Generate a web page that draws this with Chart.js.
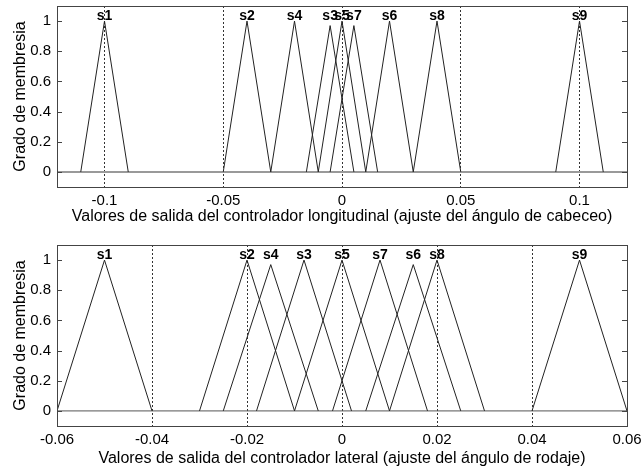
<!DOCTYPE html>
<html>
<head>
<meta charset="utf-8">
<script src="https://cdn.jsdelivr.net/npm/chart.js@4"></script>
<style>
  html, body { margin: 0; padding: 0; background: #fff; }
  #wrap { position: relative; width: 642px; height: 468px; }
  #topBox { position: absolute; left: 0; top: 0; width: 642px; height: 226px; }
  #botBox { position: absolute; left: 0; top: 226px; width: 642px; height: 242px; }
</style>
</head>
<body>
<div id="wrap">
  <div id="topBox"><canvas id="topChart" width="642" height="226"></canvas></div>
  <div id="botBox"><canvas id="botChart" width="642" height="242"></canvas></div>
</div>
<script>
// ===============================
// Data
// ===============================
// top: longitudinal controller output sets (triangles: left foot, peak, right foot)
const topNames  = ["s1", "s2", "s4", "s3", "s5", "s7", "s6", "s8", "s9"];
const topLeft   = [-0.11, -0.05, -0.03, -0.015, -0.01, -0.005, 0.01, 0.03, 0.09];
const topPeak   = [-0.1, -0.04, -0.02, -0.005, 0, 0.005, 0.02, 0.04, 0.1];
const topRight  = [-0.09, -0.03, -0.01, 0.005, 0.01, 0.015, 0.03, 0.05, 0.11];
const topHeight = [1, 1, 1, 0.97, 1, 0.97, 1, 1, 1];
const topXTicks = [-0.1, -0.05, 0, 0.05, 0.1];

// bottom: lateral controller output sets
const botNames  = ["s1", "s2", "s4", "s3", "s5", "s7", "s6", "s8", "s9"];
const botLeft   = [-0.06, -0.03, -0.025, -0.018, -0.01, -0.002, 0.005, 0.01, 0.04];
const botPeak   = [-0.05, -0.02, -0.015, -0.008, 0, 0.008, 0.015, 0.02, 0.05];
const botRight  = [-0.04, -0.01, -0.005, 0.002, 0.01, 0.018, 0.025, 0.03, 0.06];
const botHeight = [1, 1, 0.97, 1, 1, 1, 0.97, 1, 1];
const botXTicks = [-0.06, -0.04, -0.02, 0, 0.02, 0.04, 0.06];

const yTicks = [0, 0.2, 0.4, 0.6, 0.8, 1];
const labelY = 1.0;

const FONT = "'Liberation Sans', Arial, sans-serif";

// labels, box, zero line and inward ticks
const decoPlugin = {
  id: "deco",
  beforeDatasetsDraw(chart, args, opts) {
    const { ctx, chartArea: a, scales: { x, y } } = chart;
    const y0 = y.getPixelForValue(0);
    ctx.save();
    ctx.strokeStyle = opts.zeroColor;
    ctx.lineWidth = opts.zeroWidth;
    ctx.beginPath();
    ctx.moveTo(a.left, y0);
    ctx.lineTo(a.right, y0);
    ctx.stroke();
    ctx.restore();
  },
  afterDraw(chart, args, opts) {
    const { ctx, chartArea: a, scales: { x, y } } = chart;
    ctx.save();
    // box
    ctx.strokeStyle = "#444";
    ctx.lineWidth = 1;
    ctx.strokeRect(Math.round(a.left) + 0.5, Math.round(a.top) + 0.5,
      Math.round(a.right - a.left), Math.round(a.bottom - a.top));
    // inward y ticks on both sides
    ctx.beginPath();
    yTicks.forEach(v => {
      const py = Math.round(y.getPixelForValue(v)) + 0.5;
      ctx.moveTo(a.left, py); ctx.lineTo(a.left + 5, py);
      ctx.moveTo(a.right, py); ctx.lineTo(a.right - 5, py);
    });
    ctx.stroke();
    // set labels
    ctx.fillStyle = "#000";
    ctx.font = "bold 14px " + FONT;
    ctx.textAlign = "center";
    ctx.textBaseline = "alphabetic";
    opts.names.forEach((n, i) => {
      ctx.fillText(n, x.getPixelForValue(opts.peaks[i]), y.getPixelForValue(labelY) - 1);
    });
    ctx.restore();
  }
};

function makeChart(id, names, left, peak, right, height, xTicks, xMin, xMax, title, padTop, xAxisH, zeroColor, zeroWidth) {
  const datasets = names.map((n, i) => ({
    label: n,
    data: [
      { x: left[i], y: 0 },
      { x: peak[i], y: height[i] },
      { x: right[i], y: 0 }
    ],
    borderColor: "#222",
    borderWidth: 1,
    pointRadius: 0,
    tension: 0,
    fill: false
  }));

  return new Chart(document.getElementById(id), {
    type: "line",
    data: { datasets },
    plugins: [decoPlugin],
    options: {
      responsive: false,
      animation: false,
      events: [],
      layout: { padding: { top: padTop, right: 15, left: 0, bottom: 0 } },
      plugins: {
        legend: { display: false },
        tooltip: { enabled: false },
        deco: { names, peaks: peak, zeroColor, zeroWidth }
      },
      scales: {
        x: {
          type: "linear",
          min: xMin,
          max: xMax,
          afterBuildTicks: s => { s.ticks = xTicks.map(v => ({ value: v })); },
          afterFit: s => { s.height = xAxisH; s.paddingLeft = 0; s.paddingRight = 0; },
          grid: {
            color: c => (c.tick && (c.tick.value === xMin || c.tick.value === xMax)) ? "rgba(0,0,0,0)" : "#333",
            lineWidth: 1,
            drawTicks: false
          },
          border: { display: false, dash: [2, 2] },
          ticks: {
            color: "#000",
            padding: 5,
            maxRotation: 0,
            font: { family: FONT, size: 15 },
            callback: v => String(v)
          },
          title: {
            display: true,
            text: title,
            color: "#000",
            font: { family: FONT, size: 16 },
            padding: { top: 4, bottom: 0 }
          }
        },
        y: {
          min: -0.1,
          max: 1.1,
          afterBuildTicks: s => { s.ticks = yTicks.map(v => ({ value: v })); },
          afterFit: s => { s.width = 57; s.paddingTop = 0; s.paddingBottom = 0; },
          grid: { display: false, drawTicks: false },
          border: { display: false },
          ticks: {
            color: "#000",
            padding: 6,
            font: { family: FONT, size: 15 },
            callback: v => String(v)
          },
          title: {
            display: true,
            text: "Grado de membresia",
            color: "#000",
            font: { family: FONT, size: 16 },
            padding: { top: 11, bottom: 0 }
          }
        }
      }
    }
  });
}

makeChart("topChart", topNames, topLeft, topPeak, topRight, topHeight, topXTicks, -0.12, 0.12,
  "Valores de salida del controlador longitudinal (ajuste del ángulo de cabeceo)", 6, 39, "#999", 2);

makeChart("botChart", botNames, botLeft, botPeak, botRight, botHeight, botXTicks, -0.06, 0.06,
  "Valores de salida del controlador lateral (ajuste del ángulo de rodaje)", 19, 42, "#555", 1);
</script>
</body>
</html>
